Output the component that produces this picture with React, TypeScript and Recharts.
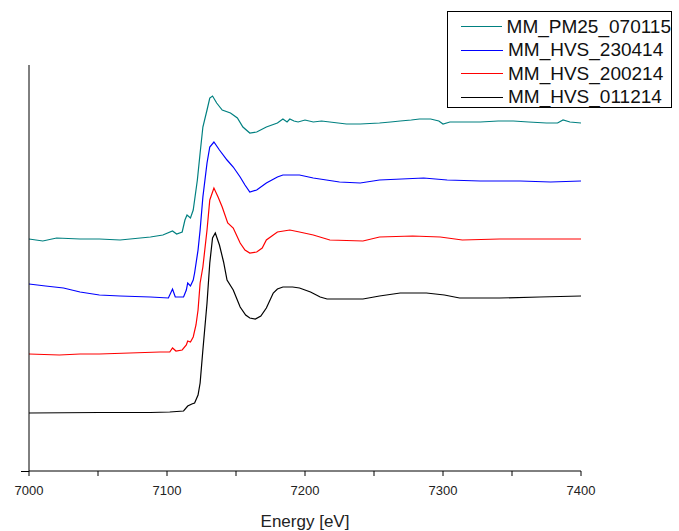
import { LineChart, Line, XAxis, YAxis } from 'recharts';

// energies (eV) and offset normalised absorption
const pm25Energy = [7000, 7010, 7020, 7037, 7051, 7066, 7088, 7097, 7104, 7107, 7111, 7113, 7114.5, 7117, 7119, 7122, 7124, 7126, 7129, 7131, 7133, 7136, 7140, 7146, 7151, 7155, 7160, 7165, 7172, 7180, 7184, 7187, 7189, 7192, 7195, 7200, 7206, 7212, 7218, 7230, 7240, 7254, 7262, 7269, 7277, 7283, 7291, 7297, 7300, 7305, 7315, 7327, 7340, 7351, 7362, 7375, 7383, 7387, 7392, 7400];
const pm25Mu = [2.32, 2.30, 2.33, 2.32, 2.32, 2.31, 2.34, 2.36, 2.40, 2.37, 2.39, 2.51, 2.56, 2.53, 2.61, 2.91, 3.18, 3.44, 3.61, 3.73, 3.75, 3.68, 3.61, 3.58, 3.53, 3.44, 3.38, 3.39, 3.44, 3.48, 3.52, 3.49, 3.52, 3.50, 3.49, 3.51, 3.49, 3.50, 3.49, 3.47, 3.47, 3.48, 3.49, 3.50, 3.51, 3.52, 3.52, 3.50, 3.47, 3.49, 3.49, 3.49, 3.50, 3.50, 3.49, 3.48, 3.48, 3.51, 3.49, 3.48];

const hvs230414Energy = [7000, 7012, 7025, 7037, 7051, 7066, 7088, 7101, 7104, 7106, 7112, 7114, 7115, 7117, 7119, 7120, 7122.5, 7124, 7126, 7129, 7131, 7134, 7138, 7143.5, 7148, 7153, 7156.5, 7160, 7165, 7172, 7180, 7184, 7189, 7196, 7206, 7225, 7240, 7254, 7270, 7286, 7303, 7327, 7356, 7378, 7400];
const hvs230414Mu = [1.87, 1.85, 1.83, 1.79, 1.76, 1.75, 1.74, 1.73, 1.82, 1.74, 1.74, 1.81, 1.88, 1.85, 1.91, 1.98, 2.21, 2.41, 2.74, 3.08, 3.24, 3.29, 3.21, 3.11, 3.04, 2.94, 2.86, 2.79, 2.81, 2.88, 2.94, 2.96, 2.96, 2.96, 2.93, 2.89, 2.88, 2.91, 2.92, 2.93, 2.91, 2.90, 2.90, 2.89, 2.90];

const hvs200214Energy = [7000, 7022, 7037, 7051, 7073, 7095, 7102, 7104, 7106.5, 7111, 7114, 7115, 7117, 7119, 7121, 7122.5, 7124, 7126, 7129, 7131, 7134, 7137, 7140, 7144, 7148, 7153, 7156.5, 7160, 7165, 7169, 7172, 7180, 7189, 7196, 7206, 7218, 7242, 7254, 7278, 7298, 7314, 7341, 7370, 7400];
const hvs200214Mu = [1.17, 1.16, 1.17, 1.17, 1.18, 1.19, 1.19, 1.23, 1.20, 1.21, 1.26, 1.30, 1.29, 1.34, 1.46, 1.61, 1.88, 2.04, 2.41, 2.71, 2.83, 2.74, 2.64, 2.48, 2.43, 2.28, 2.21, 2.18, 2.19, 2.23, 2.31, 2.39, 2.41, 2.39, 2.36, 2.31, 2.30, 2.34, 2.35, 2.34, 2.31, 2.32, 2.32, 2.32];

const hvs011214Energy = [7000, 7051, 7088, 7102, 7112, 7115, 7118, 7120, 7122.5, 7124, 7126, 7129, 7131, 7133, 7135, 7138, 7141, 7143.5, 7148, 7153, 7157, 7160, 7164, 7168, 7172, 7177, 7180, 7184, 7191, 7196, 7204, 7211, 7216, 7242, 7254, 7269, 7288, 7301, 7312, 7341, 7370, 7400];
const hvs011214Mu = [0.58, 0.585, 0.585, 0.59, 0.60, 0.65, 0.67, 0.68, 0.76, 0.88, 1.21, 1.68, 2.08, 2.33, 2.38, 2.26, 2.09, 1.91, 1.81, 1.64, 1.56, 1.53, 1.52, 1.55, 1.63, 1.78, 1.82, 1.84, 1.84, 1.83, 1.79, 1.74, 1.72, 1.72, 1.75, 1.78, 1.78, 1.76, 1.73, 1.73, 1.74, 1.75];

const xTicks = [7000, 7050, 7100, 7150, 7200, 7250, 7300, 7350, 7400];

const series = [
  { name: 'MM_PM25_070115', color: '#008080', energy: pm25Energy, mu: pm25Mu },
  { name: 'MM_HVS_230414', color: '#0000ff', energy: hvs230414Energy, mu: hvs230414Mu },
  { name: 'MM_HVS_200214', color: '#ff0000', energy: hvs200214Energy, mu: hvs200214Mu },
  { name: 'MM_HVS_011214', color: '#000000', energy: hvs011214Energy, mu: hvs011214Mu },
];

const FONT = '"Liberation Sans", Arial, sans-serif';

const EnergyTick = ({ x, y, payload }: any) => {
  if (payload.value % 100 !== 0) return <g />;
  return (
    <text x={x} y={y} dy={17} textAnchor="middle" fontSize={13} fill="#222" fontFamily={FONT}>
      {payload.value}
    </text>
  );
};

export default function App() {
  return (
    <div style={{ position: 'absolute', left: 0, top: 0, width: 679, height: 531, background: '#fff' }}>
      <LineChart width={679} height={531} margin={{ top: 65, right: 98, left: 27, bottom: 0 }}>
        <XAxis
          type="number"
          dataKey="e"
          domain={[7000, 7400]}
          ticks={xTicks}
          allowDuplicatedCategory={false}
          tick={<EnergyTick />}
          tickSize={5}
          tickMargin={2}
          height={60}
          stroke="#000"
          label={{ value: 'Energy [eV]', position: 'insideBottom', offset: 4, fontSize: 17, fill: '#222', fontFamily: FONT }}
        />
        <YAxis type="number" domain={[0, 4.06]} tick={false} tickLine={false} width={2} stroke="#000" />
        {series.map((s) => (
          <Line
            key={s.name}
            name={s.name}
            data={s.energy.map((e, i) => ({ e, v: s.mu[i] }))}
            dataKey="v"
            type="linear"
            stroke={s.color}
            strokeWidth={1.2}
            dot={false}
            isAnimationActive={false}
          />
        ))}
      </LineChart>
      {/* short stub of the energy axis left of 7000, as in the original plot */}
      <div style={{ position: 'absolute', left: 21, top: 470.5, width: 8, height: 1, background: '#000' }} />
      <div
        style={{
          position: 'absolute', left: 447, top: 11, width: 225, height: 97,
          border: '1px solid #000', boxSizing: 'border-box', background: '#fff',
          fontFamily: FONT, fontSize: 19, color: '#111', paddingTop: 3,
        }}
      >
        {series.map((s) => (
          <div key={s.name} style={{ display: 'flex', alignItems: 'center', height: 23.5 }}>
            <div style={{ width: 42, height: 0, borderTop: `1.5px solid ${s.color}`, marginLeft: 13, marginRight: 5 }} />
            <span>{s.name}</span>
          </div>
        ))}
      </div>
    </div>
  );
}
